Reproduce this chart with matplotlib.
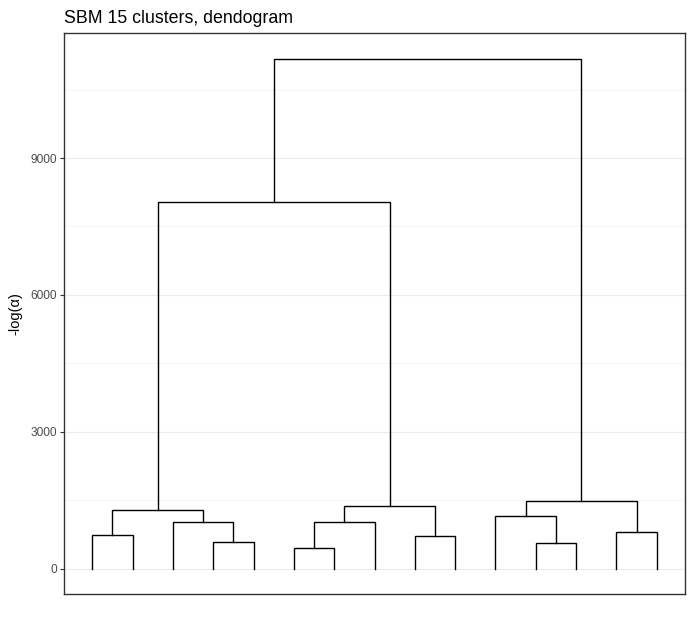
import matplotlib
matplotlib.use("Agg")
import matplotlib.pyplot as plt

plt.rcParams['font.family'] = ['Liberation Sans', 'DejaVu Sans']

# feuilles du dendrogramme (ordre d'affichage)
leaves = list(range(1, 16))

# fusions : (enfant gauche, enfant droit, hauteur)
# un entier 0..14 = feuille, "mN" = fusion N
merges = [
    (0, 1, 745),        # m0
    (3, 4, 592),        # m1
    (2, "m1", 1030),    # m2
    ("m0", "m2", 1272), # m3
    (5, 6, 439),        # m4
    ("m4", 7, 1009),    # m5
    (8, 9, 702),        # m6
    ("m5", "m6", 1360), # m7
    (11, 12, 570),      # m8
    (10, "m8", 1162),   # m9
    (13, 14, 811),      # m10
    ("m9", "m10", 1491),# m11
    ("m3", "m7", 8048), # m12
    ("m12", "m11", 11184), # m13
]

yticks = [0, 3000, 6000, 9000]
yminor = [1500, 4500, 7500, 10500]

# position (x, hauteur) de chaque noeud
pos = {}
for i, leaf in enumerate(leaves):
    pos[i] = (leaf, 0)

fig = plt.figure(figsize=(6.92, 6.2), dpi=100)
ax = fig.add_axes([64 / 692, 1 - 594 / 620, (685 - 64) / 692, (594 - 33) / 620])

for k, (a, b, h) in enumerate(merges):
    xa, ya = pos[a]
    xb, yb = pos[b]
    ax.plot([xa, xa, xb, xb], [ya, h, h, yb], color="black", lw=1.0,
            solid_joinstyle="miter", zorder=3)
    pos["m%d" % k] = ((xa + xb) / 2, h)

top = max(m[2] for m in merges)
ax.set_xlim(1 - 0.05 * 14, 15 + 0.05 * 14)
ax.set_ylim(-0.05 * top, top * 1.05)

ax.set_yticks(yticks)
ax.set_yticks(yminor, minor=True)
ax.set_xticks([])
ax.grid(True, which="major", axis="y", color="#EBEBEB", lw=0.8, zorder=0)
ax.grid(True, which="minor", axis="y", color="#F2F2F2", lw=0.5, zorder=0)
ax.tick_params(axis="y", which="major", length=3, width=0.8, color="#333333",
               labelsize=8.6, labelcolor="#4D4D4D", pad=2)
ax.tick_params(axis="y", which="minor", length=0)
for s in ax.spines.values():
    s.set_color("#333333")
    s.set_linewidth(1.0)

ax.set_ylabel("-log(α)", fontsize=10.5, labelpad=6,
              family=['Liberation Sans', 'DejaVu Sans'])
ax.set_title("SBM 15 clusters, dendogram", loc="left", fontsize=12.8, pad=7)

fig.savefig("out.png", dpi=100)
